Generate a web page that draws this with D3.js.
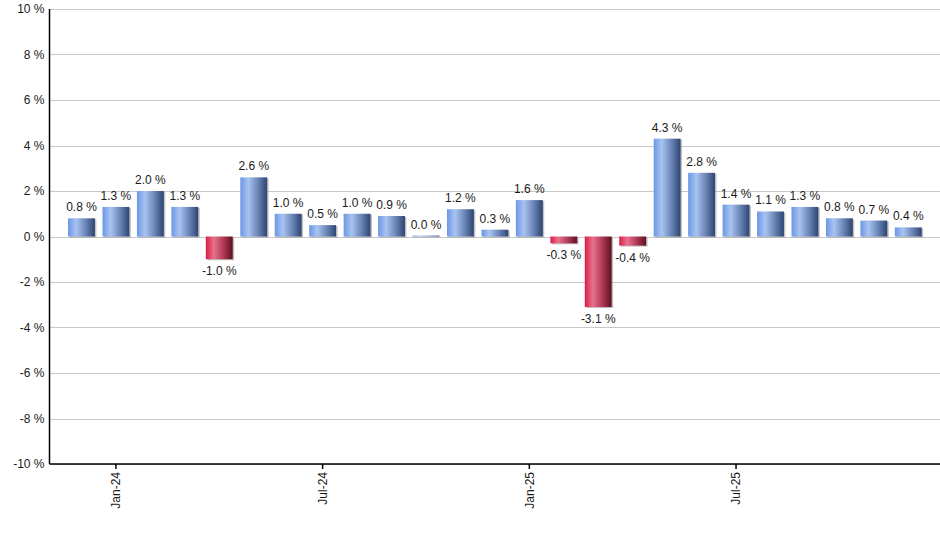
<!DOCTYPE html>
<html>
<head>
<meta charset="utf-8">
<script src="https://cdn.jsdelivr.net/npm/d3@7"></script>
<style>
  body { margin: 0; background: #fff; }
  text { font-family: "Liberation Sans", Arial, sans-serif; }
</style>
</head>
<body>
<div id="vis"></div>
<script>
const FRAME_WIDTH = 940;
const FRAME_HEIGHT = 550;

// monthly change, Dec-23 .. Dec-25
const months = ["Dec-23", "Jan-24", "Feb-24", "Mar-24", "Apr-24", "May-24", "Jun-24",
  "Jul-24", "Aug-24", "Sep-24", "Oct-24", "Nov-24", "Dec-24", "Jan-25", "Feb-25",
  "Mar-25", "Apr-25", "May-25", "Jun-25", "Jul-25", "Aug-25", "Sep-25", "Oct-25",
  "Nov-25", "Dec-25"];
const values = [0.8, 1.3, 2.0, 1.3, -1.0, 2.6, 1.0, 0.5, 1.0, 0.9, 0.04, 1.2, 0.3,
  1.6, -0.3, -3.1, -0.4, 4.3, 2.8, 1.4, 1.1, 1.3, 0.8, 0.7, 0.4];
const yTicks = [-10, -8, -6, -4, -2, 0, 2, 4, 6, 8, 10];
const xTickLabels = ["Jan-24", "Jul-24", "Jan-25", "Jul-25"];

const data = months.map((m, i) => ({month: m, value: values[i]}));

const FRAME = d3.select("#vis")
  .append("svg")
    .attr("width", FRAME_WIDTH)
    .attr("height", FRAME_HEIGHT);

const PLOT = {left: 49.5, right: 940, top: 9, bottom: 464};

const X_SCALE = d3.scaleBand()
  .domain(months)
  .range([64.25, 925.5])
  .paddingInner(0.22)
  .paddingOuter(0.11);

const Y_SCALE = d3.scaleLinear()
  .domain([-10, 10])
  .range([PLOT.bottom, PLOT.top]);

// gradients for the bars
const defs = FRAME.append("defs");
function addGradient(id, stops) {
  const g = defs.append("linearGradient").attr("id", id)
    .attr("x1", "0%").attr("x2", "100%").attr("y1", "0%").attr("y2", "0%");
  stops.forEach(s => g.append("stop").attr("offset", s[0]).attr("stop-color", s[1]));
}
addGradient("blueGrad", [["0%", "#6b97e6"], ["30%", "#a9c3f1"], ["65%", "#6b86b8"], ["100%", "#2c4470"]]);
addGradient("redGrad", [["0%", "#dc1c44"], ["30%", "#e8728e"], ["65%", "#b03a55"], ["100%", "#5e0f20"]]);

// gridlines
FRAME.append("g")
  .selectAll("line")
  .data(yTicks)
  .enter()
  .append("line")
    .attr("x1", PLOT.left)
    .attr("x2", PLOT.right)
    .attr("y1", d => Math.round(Y_SCALE(d)) + 0.5)
    .attr("y2", d => Math.round(Y_SCALE(d)) + 0.5)
    .attr("stroke", "#c8c8c8")
    .attr("stroke-width", 1);

const y0 = Y_SCALE(0);

// bar shadows
FRAME.append("g")
  .selectAll("rect")
  .data(data)
  .enter()
  .append("rect")
    .attr("x", d => X_SCALE(d.month) + 1.5)
    .attr("y", d => Math.min(Y_SCALE(d.value), y0) + 1)
    .attr("width", X_SCALE.bandwidth())
    .attr("height", d => Math.abs(Y_SCALE(d.value) - y0))
    .attr("fill", "#9a9a9a")
    .attr("opacity", 0.6);

// bars
FRAME.append("g")
  .selectAll("rect")
  .data(data)
  .enter()
  .append("rect")
    .attr("x", d => X_SCALE(d.month))
    .attr("y", d => Math.min(Y_SCALE(d.value), y0))
    .attr("width", X_SCALE.bandwidth())
    .attr("height", d => Math.abs(Y_SCALE(d.value) - y0))
    .attr("fill", d => d.value >= 0 ? "url(#blueGrad)" : "url(#redGrad)");

// value labels
FRAME.append("g")
  .selectAll("text")
  .data(data)
  .enter()
  .append("text")
    .attr("x", d => X_SCALE(d.month) + X_SCALE.bandwidth() / 2)
    .attr("y", d => d.value >= 0 ? Y_SCALE(d.value) - 7 : Y_SCALE(d.value) + 16)
    .attr("text-anchor", "middle")
    .attr("font-size", "12px")
    .attr("fill", "#1a1a1a")
    .text(d => d.value.toFixed(1) + " %");

// y axis
const yAxis = FRAME.append("g")
  .attr("transform", "translate(" + PLOT.left + ",0)")
  .call(d3.axisLeft(Y_SCALE).tickValues(yTicks).tickSize(0).tickPadding(5)
    .tickFormat(d => d + " %"));
yAxis.select(".domain").attr("stroke", "#000").attr("stroke-width", 1.5)
  .attr("d", "M0," + PLOT.top + "V" + PLOT.bottom);
yAxis.selectAll("text").attr("font-size", "12px").attr("fill", "#1a1a1a")
  .attr("font-family", "'Liberation Sans', Arial, sans-serif");

// x axis
const xAxis = FRAME.append("g")
  .attr("transform", "translate(0," + PLOT.bottom + ")")
  .call(d3.axisBottom(X_SCALE).tickValues(xTickLabels).tickSize(5).tickSizeOuter(0));
xAxis.select(".domain").attr("stroke", "#000").attr("stroke-width", 1.5)
  .attr("d", "M" + PLOT.left + ",0H" + PLOT.right);
xAxis.selectAll(".tick line").attr("stroke", "#000").attr("stroke-width", 1.5);
xAxis.selectAll("text")
  .attr("font-size", "12px")
  .attr("fill", "#1a1a1a")
  .attr("font-family", "'Liberation Sans', Arial, sans-serif")
  .attr("transform", "rotate(-90)")
  .attr("text-anchor", "end")
  .attr("x", -8)
  .attr("y", 0)
  .attr("dy", "0.35em");
</script>
</body>
</html>
